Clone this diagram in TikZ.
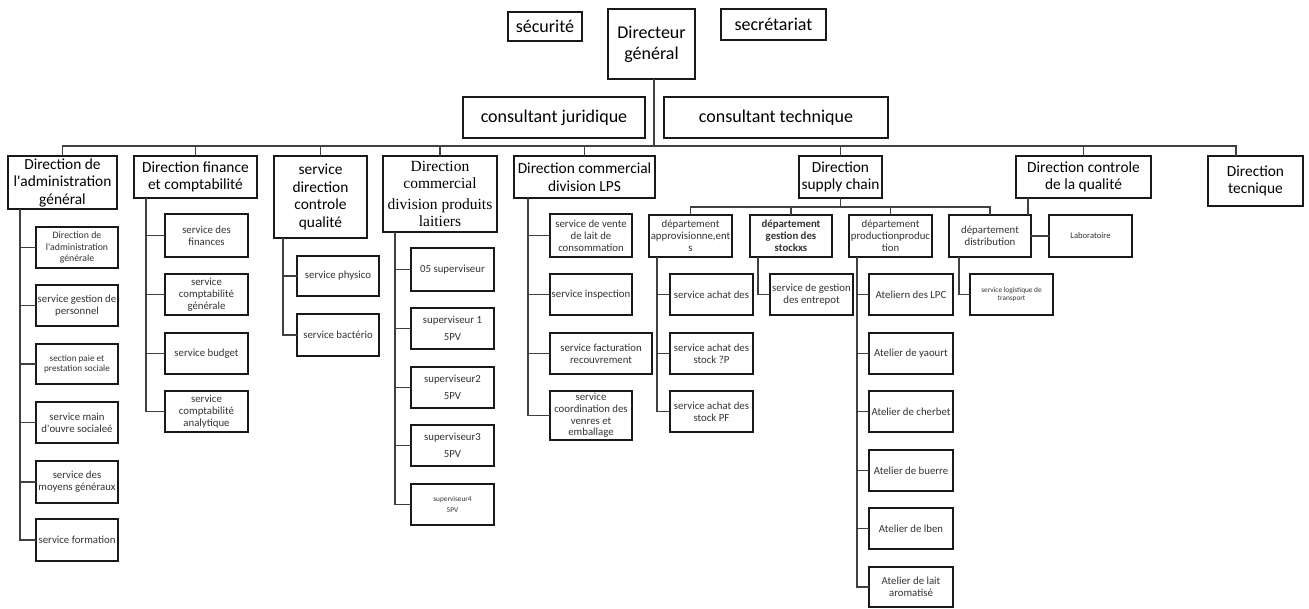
\documentclass[tikz,border=0pt]{standalone}
\usepackage{fontspec}
\setmainfont{Carlito}
\newfontfamily\cambriaface{Liberation Serif}
% \orgbox{name}{x1}{y1}{x2}{y2}{style}{text}: a box given by its corners
\newcommand\orgbox[7]{%
  \node[#6, minimum width={(#4)-(#2)}, minimum height={(#5)-(#3)}]
    (#1) at ({((#2)+(#4))/2},{((#3)+(#5))/2}) {#7};}
\newcommand\apos{\textquotesingle}
\begin{document}
\begin{tikzpicture}[x=1pt,y=-1pt,
  box/.style={draw=black!90, line width=1.3pt, inner sep=0pt, outer sep=0pt,
              align=center, fill=white},
  topbox/.style={box, font=\fontsize{18}{21}\selectfont},
  headbox/.style={box, font=\fontsize{15.4}{17.5}\selectfont},
  serifbox/.style={box, font=\cambriaface\fontsize{15.5}{17}\selectfont},
  subbox/.style={box, text=black!80, font=\fontsize{10.8}{11.8}\selectfont},
  smallbox/.style={box, text=black!80, font=\fontsize{9.2}{10.2}\selectfont},
  tinybox/.style={box, text=black!80, font=\fontsize{7.3}{8.5}\selectfont},
  conn/.style={draw=black!75, line width=1.9pt},
]
\useasboundingbox (0,0) rectangle (1309,609);

% top management
\orgbox{sec}{508}{12}{582}{41}{topbox}{sécurité}
\orgbox{dg}{608}{9}{695}{79}{topbox}{Directeur\\général}
\orgbox{secr}{721}{9}{826}{40}{topbox}{secrétariat}
\orgbox{cj}{463}{97}{645}{138}{topbox}{consultant juridique}
\orgbox{ct}{664}{97}{888}{138}{topbox}{consultant technique}

% directions
\orgbox{adm}{8}{156}{117}{209}{headbox}{Direction de\\l\apos administration\\général}
\orgbox{fin}{134}{156}{257}{198}{headbox}{Direction finance\\et comptabilité}
\orgbox{sqc}{274}{156}{367}{238}{headbox}{service\\direction\\controle\\qualité}
\orgbox{dpl}{383}{156}{497}{232}{serifbox}{Direction\\commercial\\[4pt]division produits\\laitiers}
\orgbox{lps}{514}{156}{655}{198}{headbox}{Direction commercial\\division LPS}
\orgbox{sc}{799}{156}{882}{198}{headbox}{Direction\\supply chain}
\orgbox{cq}{1016}{156}{1151}{198}{headbox}{Direction controle\\de la qualité}
\orgbox{tec}{1208}{156}{1303}{206}{headbox}{Direction\\tecnique}

% administration
\orgbox{a1}{36}{227}{118}{268}{subbox,font=\fontsize{9.8}{11.4}\selectfont}{Direction de\\l\apos administration\\générale}
\orgbox{a2}{36}{285}{118}{326}{subbox}{service gestion de\\personnel}
\orgbox{a3}{36}{344}{118}{384}{smallbox}{section paie et\\prestation sociale}
\orgbox{a4}{36}{402}{118}{443}{subbox}{service main\\d\apos ouvre socialeé}
\orgbox{a5}{36}{461}{118}{503}{subbox}{service des\\moyens généraux}
\orgbox{a6}{36}{519}{118}{561}{subbox}{service formation}

% finance
\orgbox{f1}{165}{214}{248}{257}{subbox}{service des\\finances}
\orgbox{f2}{165}{274}{248}{315}{subbox}{service\\comptabilité\\générale}
\orgbox{f3}{165}{333}{248}{374}{subbox}{service budget}
\orgbox{f4}{165}{391}{248}{432}{subbox}{service\\comptabilité\\analytique}

% quality service
\orgbox{q1}{297}{256}{379}{296}{subbox}{service physico}
\orgbox{q2}{297}{314}{379}{356}{subbox}{service bactério}

% dairy products division
\orgbox{p1}{411}{248}{494}{291}{subbox}{05 superviseur}
\orgbox{p2}{411}{308}{494}{349}{subbox}{superviseur 1\\[5pt]5PV}
\orgbox{p3}{411}{367}{494}{408}{subbox}{superviseur2\\[5pt]5PV}
\orgbox{p4}{411}{425}{494}{466}{subbox}{superviseur3\\[5pt]5PV}
\orgbox{p5}{411}{484}{494}{525}{tinybox}{superviseur4\\[2pt]5PV}

% LPS division
\orgbox{l1}{550}{214}{632}{257}{subbox}{service de vente\\de lait de\\consommation}
\orgbox{l2}{550}{274}{632}{315}{subbox}{service inspection}
\orgbox{l3}{550}{333}{652}{374}{subbox}{service facturation\\recouvrement}
\orgbox{l4}{550}{391}{632}{440}{subbox}{service\\coordination des\\venres et\\emballage}

% supply chain departments
\orgbox{d1}{649}{215}{732}{257}{subbox}{département\\approvisionne,ent\\s}
\orgbox{d2}{750}{215}{832}{257}{subbox,font=\fontsize{10.8}{11.8}\selectfont\bfseries}{département\\gestion des\\stockxs}
\orgbox{d3}{849}{215}{932}{257}{subbox}{département\\productionproduc\\tion}
\orgbox{d4}{949}{215}{1031}{257}{subbox}{département\\distribution}
\orgbox{lab}{1049}{215}{1132}{257}{subbox,font=\fontsize{8.6}{10}\selectfont}{Laboratoire}

\orgbox{s1}{670}{274}{753}{315}{subbox}{service achat des}
\orgbox{s2}{670}{333}{753}{374}{subbox}{service achat des\\stock ?P}
\orgbox{s3}{670}{391}{753}{432}{subbox}{service achat des\\stock PF}
\orgbox{g1}{770}{274}{853}{315}{subbox}{service de gestion\\des entrepot}
\orgbox{w1}{869}{274}{953}{315}{subbox}{Ateliern des LPC}
\orgbox{w2}{869}{333}{953}{374}{subbox}{Atelier de yaourt}
\orgbox{w3}{869}{391}{953}{432}{subbox}{Atelier de cherbet}
\orgbox{w4}{869}{450}{953}{491}{subbox}{Atelier de buerre}
\orgbox{w5}{869}{508}{953}{549}{subbox}{Atelier de lben}
\orgbox{w6}{869}{567}{953}{607}{subbox}{Atelier de lait\\aromatisé}
\orgbox{t1}{970}{274}{1053}{315}{tinybox}{service logistique de\\transport}

% bus lines and spines
\coordinate (bus) at (0,146);
\coordinate (scbus) at (0,207);
\coordinate (dgx) at (654,0);
\coordinate (tecx) at (1236,0);
\coordinate (cqx) at (1028,0);
\coordinate (admsp) at (20,0);
\coordinate (finsp) at (146,0);
\coordinate (qcsp) at (283,0);
\coordinate (plsp) at (395,0);
\coordinate (lpssp) at (528,0);
\coordinate (d1sp) at (657,0);
\coordinate (d2sp) at (758,0);
\coordinate (d3sp) at (857,0);
\coordinate (d4sp) at (959,0);

% general director to directions
\draw[conn] (dgx |- dg.south) -- (dgx |- bus);
\draw[conn] (adm.north) -- (adm.north |- bus) -- (tecx |- bus) -- (tecx |- tec.north);
\foreach \n in {fin,sqc,dpl,lps,sc,cq}
  \draw[conn] (\n.north) -- (\n.north |- bus);

% administration
\draw[conn] (admsp |- adm.south) |- (a6.west);
\foreach \c in {a1,a2,a3,a4,a5} \draw[conn] (admsp |- \c.west) -- (\c.west);
% finance
\draw[conn] (finsp |- fin.south) |- (f4.west);
\foreach \c in {f1,f2,f3} \draw[conn] (finsp |- \c.west) -- (\c.west);
% quality service
\draw[conn] (qcsp |- sqc.south) |- (q2.west);
\draw[conn] (qcsp |- q1.west) -- (q1.west);
% dairy products
\draw[conn] (plsp |- dpl.south) |- (p5.west);
\foreach \c in {p1,p2,p3,p4} \draw[conn] (plsp |- \c.west) -- (\c.west);
% LPS
\draw[conn] (lpssp |- lps.south) |- (l4.west);
\foreach \c in {l1,l2,l3} \draw[conn] (lpssp |- \c.west) -- (\c.west);

% supply chain
\draw[conn] (sc.south) -- (sc.south |- scbus);
\draw[conn] (d1.north) -- (d1.north |- scbus) -- (d4.north |- scbus) -- (d4.north);
\foreach \n in {d2,d3} \draw[conn] (\n.north) -- (\n.north |- scbus);
\draw[conn] (cqx |- cq.south) -- (cqx |- d4.north);
\draw[conn] (d4.east) -- (lab.west);

\draw[conn] (d1sp |- d1.south) |- (s3.west);
\foreach \c in {s1,s2} \draw[conn] (d1sp |- \c.west) -- (\c.west);
\draw[conn] (d2sp |- d2.south) |- (g1.west);
\draw[conn] (d3sp |- d3.south) |- (w6.west);
\foreach \c in {w1,w2,w3,w4,w5} \draw[conn] (d3sp |- \c.west) -- (\c.west);
\draw[conn] (d4sp |- d4.south) |- (t1.west);
\end{tikzpicture}
\end{document}
